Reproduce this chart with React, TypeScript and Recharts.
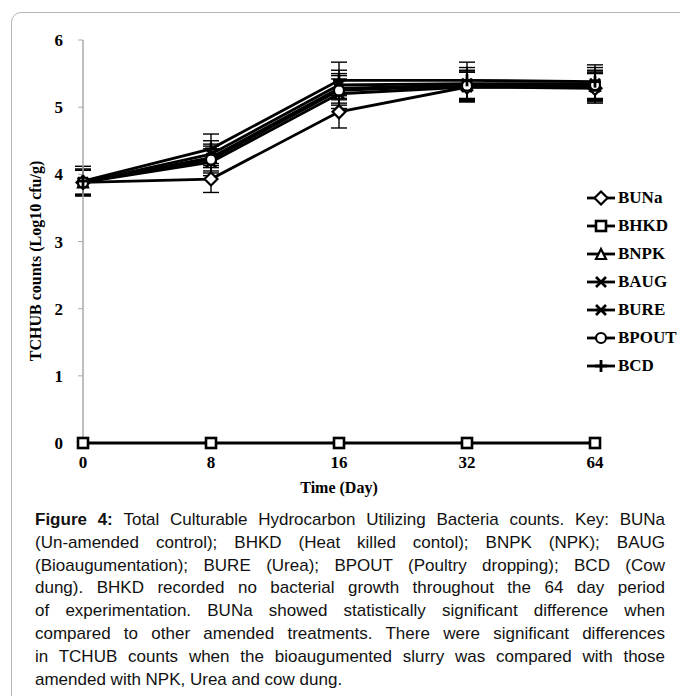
import React from "react";
import { LineChart, Line, XAxis, YAxis, Legend, ErrorBar } from "recharts";

const days = ["0", "8", "16", "32", "64"];
const yTicks = [0, 1, 2, 3, 4, 5, 6];

const buna = [3.88, 3.93, 4.93, 5.3, 5.28];
const bunaErr = [0.2, 0.2, 0.24, 0.22, 0.22];
const bhkd = [0, 0, 0, 0, 0];
const bhkdErr = [0, 0, 0, 0, 0];
const bnpk = [3.88, 4.25, 5.28, 5.33, 5.32];
const bnpkErr = [0.18, 0.2, 0.22, 0.22, 0.22];
const baug = [3.88, 4.18, 5.2, 5.3, 5.3];
const baugErr = [0.18, 0.2, 0.22, 0.22, 0.22];
const bure = [3.88, 4.3, 5.33, 5.35, 5.35];
const bureErr = [0.18, 0.2, 0.22, 0.24, 0.24];
const bpout = [3.88, 4.22, 5.25, 5.32, 5.33];
const bpoutErr = [0.18, 0.2, 0.22, 0.22, 0.22];
const bcd = [3.9, 4.38, 5.4, 5.4, 5.38];
const bcdErr = [0.22, 0.22, 0.27, 0.27, 0.25];

type Shape = "diamond" | "square" | "triangle" | "x" | "star" | "circle" | "plus";

const series: { name: string; values: number[]; err: number[]; shape: Shape }[] = [
  { name: "BUNa", values: buna, err: bunaErr, shape: "diamond" },
  { name: "BHKD", values: bhkd, err: bhkdErr, shape: "square" },
  { name: "BNPK", values: bnpk, err: bnpkErr, shape: "triangle" },
  { name: "BAUG", values: baug, err: baugErr, shape: "x" },
  { name: "BURE", values: bure, err: bureErr, shape: "star" },
  { name: "BPOUT", values: bpout, err: bpoutErr, shape: "circle" },
  { name: "BCD", values: bcd, err: bcdErr, shape: "plus" },
];

const rows = days.map((d, i) => {
  const r: Record<string, number | string> = { day: d };
  series.forEach((s) => {
    r[s.name] = s.values[i];
    r[s.name + "Err"] = s.err[i];
  });
  return r;
});

const SERIF = "'Liberation Serif', 'Times New Roman', serif";
const SANS = "'Liberation Sans', Arial, sans-serif";

function Marker({ shape, cx, cy }: { shape: Shape; cx: number; cy: number }) {
  const s = 5;
  const st = { stroke: "#000", strokeWidth: 2.2, fill: "#fff" };
  switch (shape) {
    case "diamond":
      return (
        <polygon
          points={`${cx},${cy - s - 1.5} ${cx + s + 1.5},${cy} ${cx},${cy + s + 1.5} ${cx - s - 1.5},${cy}`}
          {...st}
        />
      );
    case "square":
      return <rect x={cx - s} y={cy - s} width={2 * s} height={2 * s} {...st} strokeWidth={2.6} />;
    case "triangle":
      return <polygon points={`${cx},${cy - s} ${cx + s},${cy + s} ${cx - s},${cy + s}`} {...st} />;
    case "circle":
      return <circle cx={cx} cy={cy} r={s} {...st} />;
    case "x":
      return (
        <g stroke="#000" strokeWidth={2.6}>
          <line x1={cx - s} y1={cy - s} x2={cx + s} y2={cy + s} />
          <line x1={cx - s} y1={cy + s} x2={cx + s} y2={cy - s} />
        </g>
      );
    case "star":
      return (
        <g stroke="#000" strokeWidth={2.6}>
          <line x1={cx - s} y1={cy - s} x2={cx + s} y2={cy + s} />
          <line x1={cx - s} y1={cy + s} x2={cx + s} y2={cy - s} />
          <line x1={cx - s} y1={cy} x2={cx + s} y2={cy} />
        </g>
      );
    case "plus":
    default:
      return (
        <g stroke="#000" strokeWidth={2.8}>
          <line x1={cx - s - 1} y1={cy} x2={cx + s + 1} y2={cy} />
          <line x1={cx} y1={cy - s - 1} x2={cx} y2={cy + s + 1} />
        </g>
      );
  }
}

const renderLegend = () => (
  <div style={{ fontFamily: SERIF, fontWeight: "bold", fontSize: 17 }}>
    {series.map((s) => (
      <div key={s.name} style={{ display: "flex", alignItems: "center", height: 28 }}>
        <svg width={32} height={16}>
          <line x1={2} y1={8} x2={30} y2={8} stroke="#000" strokeWidth={2.8} />
          <Marker shape={s.shape} cx={16} cy={8} />
        </svg>
        <span style={{ marginLeft: 1 }}>{s.name}</span>
      </div>
    ))}
  </div>
);

const caption = [
  "Total Culturable Hydrocarbon Utilizing Bacteria counts. Key: BUNa",
  "(Un-amended control); BHKD (Heat killed contol); BNPK (NPK); BAUG",
  "(Bioaugumentation); BURE (Urea); BPOUT (Poultry dropping); BCD (Cow",
  "dung). BHKD recorded no bacterial growth throughout the 64 day period",
  "of experimentation. BUNa showed statistically significant difference when",
  "compared to other amended treatments. There were significant differences",
  "in TCHUB counts when the bioaugumented slurry was compared with those",
  "amended with NPK, Urea and cow dung.",
];

export default function App() {
  return (
    <div
      style={{
        position: "absolute",
        left: 0,
        top: 0,
        width: 680,
        height: 696,
        overflow: "hidden",
        background: "#fff",
      }}
    >
      <div
        style={{
          position: "absolute",
          left: 11,
          top: 12,
          width: 720,
          height: 720,
          border: "1px solid #b5b5b5",
          borderRadius: 10,
        }}
      />
      <div style={{ position: "absolute", left: 0, top: 0 }}>
        <LineChart width={680} height={500} data={rows} margin={{ top: 40, right: 85, left: 0, bottom: 12 }}>
          <XAxis
            dataKey="day"
            axisLine={false}
            tickLine={false}
            tickSize={6}
            tickMargin={7}
            height={45}
            tick={{ fill: "#000", fontSize: 17, fontWeight: "bold", fontFamily: SERIF }}
            label={({ viewBox }: any) => (
              <text
                x={viewBox.x + viewBox.width / 2}
                y={viewBox.y + 50}
                textAnchor="middle"
                fontFamily={SERIF}
                fontWeight="bold"
                fontSize={16}
                fill="#000"
              >
                Time (Day)
              </text>
            )}
          />
          <YAxis
            width={83}
            domain={[0, 6]}
            ticks={yTicks}
            interval={0}
            axisLine={{ stroke: "#aaa", strokeWidth: 1.5 }}
            tickLine={{ stroke: "#aaa" }}
            tickSize={5}
            tickMargin={15}
            tick={{ fill: "#000", fontSize: 17, fontWeight: "bold", fontFamily: SERIF }}
            label={() => (
              <text
                x={35}
                y={261}
                transform={`rotate(-90 35 261)`}
                textAnchor="middle"
                dominantBaseline="central"
                fontFamily={SERIF}
                fontWeight="bold"
                fontSize={16}
                fill="#000"
              >
                TCHUB counts (Log10 cfu/g)
              </text>
            )}
          />
          <Legend
            layout="vertical"
            align="center"
            verticalAlign="middle"
            content={renderLegend}
            wrapperStyle={{ position: "absolute", left: 585, top: 184, width: 95 }}
          />
          {series.map((s) => (
            <Line
              key={s.name}
              dataKey={s.name}
              name={s.name}
              stroke="#000"
              strokeWidth={2.8}
              isAnimationActive={false}
              dot={(p: any) => (
                <Marker key={`${s.name}-${p.index}`} shape={s.shape} cx={p.cx} cy={p.cy} />
              )}
            >
              {s.name !== "BHKD" && (
                <ErrorBar dataKey={s.name + "Err"} width={8} strokeWidth={1.4} stroke="#000" direction="y" />
              )}
            </Line>
          ))}
        </LineChart>
      </div>
      <div
        style={{
          position: "absolute",
          left: 35,
          top: 509,
          width: 630,
          fontFamily: SANS,
          fontSize: 17,
          lineHeight: "22.8px",
          color: "#111",
        }}
      >
        {caption.map((line, i) => (
          <div
            key={i}
            style={{
              whiteSpace: "nowrap",
              textAlign: "justify",
              textAlignLast: i < caption.length - 1 ? "justify" : "left",
            }}
          >
            {i === 0 && <b>Figure 4: </b>}
            {line}
          </div>
        ))}
      </div>
    </div>
  );
}
